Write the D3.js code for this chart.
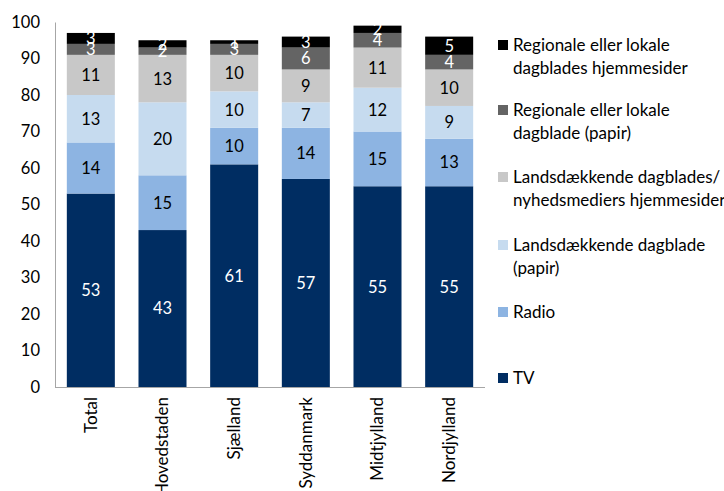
<!DOCTYPE html>
<html>
<head>
<meta charset="utf-8">
<script src="https://cdn.jsdelivr.net/npm/d3@7"></script>
<style>
  html, body { margin: 0; padding: 0; background: #fff; }
  svg { display: block; font-family: Lato, "Open Sans", sans-serif; }
</style>
</head>
<body>
<svg id="chart" width="724" height="491"></svg>
<script>
// Regions shown on the x axis
const regions = ["Total", "Hovedstaden", "Sjælland", "Syddanmark", "Midtjylland", "Nordjylland"];

// Media series, stacked bottom to top
const seriesNames = [
  "TV",
  "Radio",
  "Landsdækkende dagblade (papir)",
  "Landsdækkende dagblades/ nyhedsmediers hjemmesider",
  "Regionale eller lokale dagblade (papir)",
  "Regionale eller lokale dagblades hjemmesider"
];

// Share (%) per region, one array per series
const tv          = [53, 43, 61, 57, 55, 55];
const radio       = [14, 15, 10, 14, 15, 13];
const natPaper    = [13, 20, 10, 7, 12, 9];
const natWeb      = [11, 13, 10, 9, 11, 10];
const regPaper    = [3, 2, 3, 6, 4, 4];
const regWeb      = [3, 2, 1, 3, 2, 5];

const yTicks = [0, 10, 20, 30, 40, 50, 60, 70, 80, 90, 100];

// Legend text lines (legend lists top series first)
const legendLines = [
  ["Regionale eller lokale", "dagblades hjemmesider"],
  ["Regionale eller lokale", "dagblade (papir)"],
  ["Landsdækkende dagblades/", "nyhedsmediers hjemmesider"],
  ["Landsdækkende dagblade", "(papir)"],
  ["Radio"],
  ["TV"]
];

const colors = ["#002d62", "#8db4e2", "#c6dbef", "#c8c8c8", "#646464", "#000000"];
const labelColors = ["#ffffff", "#000000", "#000000", "#000000", "#ffffff", "#ffffff"];

const values = [tv, radio, natPaper, natWeb, regPaper, regWeb];
const rows = regions.map((r, i) => {
  const o = { region: r };
  seriesNames.forEach((s, k) => { o[s] = values[k][i]; });
  return o;
});

const svg = d3.select("#chart");
const margin = { left: 55, right: 239, top: 22, bottom: 104 };
const width = 724 - margin.left - margin.right;
const height = 491 - margin.top - margin.bottom;

const g = svg.append("g").attr("transform", `translate(${margin.left},${margin.top})`);

const x = d3.scaleBand().domain(regions).range([0, width]).paddingInner(0.33).paddingOuter(0.165);
const y = d3.scaleLinear().domain([0, 100]).range([height, 0]);

const stack = d3.stack().keys(seriesNames)(rows);

const layers = g.selectAll("g.layer").data(stack).join("g")
  .attr("class", "layer")
  .attr("fill", (d, i) => colors[i]);

layers.selectAll("rect").data(d => d).join("rect")
  .attr("x", d => x(d.data.region))
  .attr("y", d => y(d[1]))
  .attr("width", x.bandwidth())
  .attr("height", d => y(d[0]) - y(d[1]));

// Value labels centred in each segment
stack.forEach((layer, i) => {
  g.append("g").selectAll("text").data(layer).join("text")
    .attr("x", d => x(d.data.region) + x.bandwidth() / 2)
    .attr("y", d => y((d[0] + d[1]) / 2))
    .attr("dy", "0.36em")
    .attr("text-anchor", "middle")
    .attr("font-size", 16.5)
    .attr("fill", labelColors[i])
    .text(d => d[1] - d[0]);
});

// Axes
const yAxis = g.append("g").call(d3.axisLeft(y).tickValues(yTicks).tickSize(0).tickPadding(15));
yAxis.select(".domain").attr("stroke", "#a6a6a6");
yAxis.selectAll("text").attr("font-size", 16.5).attr("fill", "#000").attr("font-family", "Lato, sans-serif");

const xAxis = g.append("g").attr("transform", `translate(0,${height})`)
  .call(d3.axisBottom(x).tickSize(0).tickPadding(10));
xAxis.select(".domain").attr("stroke", "#a6a6a6").attr("d", `M0,0.5H${width}`);
xAxis.selectAll("text")
  .attr("font-size", 17)
  .attr("fill", "#000")
  .attr("font-family", "Lato, sans-serif")
  .attr("transform", "rotate(-90)")
  .attr("text-anchor", "end")
  .attr("x", -10)
  .attr("y", 0)
  .attr("dy", "0.35em");

// Legend
const legendY = [45, 110, 177, 245, 312, 378];
const legend = svg.append("g").attr("transform", "translate(498,0)");
legendLines.forEach((lines, i) => {
  const idx = seriesNames.length - 1 - i;
  legend.append("rect")
    .attr("x", 0).attr("y", legendY[i] - 5)
    .attr("width", 10).attr("height", 10)
    .attr("fill", colors[idx]);
  const t = legend.append("text")
    .attr("x", 15).attr("y", legendY[i])
    .attr("font-size", 17)
    .attr("fill", "#000");
  lines.forEach((line, j) => {
    t.append("tspan").attr("x", 15).attr("dy", j === 0 ? "0.35em" : "1.35em").text(line);
  });
});
</script>
</body>
</html>
